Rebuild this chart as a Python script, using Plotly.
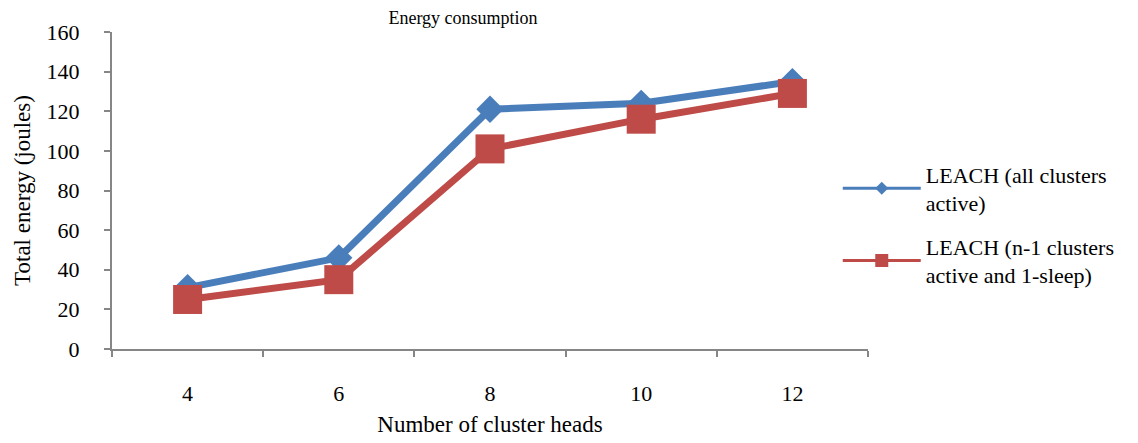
import plotly.graph_objects as go

categories = ["4", "6", "8", "10", "12"]
all_active = [31, 46, 121, 124, 135]
n1_active = [25, 35, 101, 116, 129]
series_names = ["LEACH (all clusters<br>active)", "LEACH (n-1 clusters<br>active and 1-sleep)"]
y_ticks = [0, 20, 40, 60, 80, 100, 120, 140, 160]

BLUE = "#4A7EBB"
RED = "#BE4B48"
FONT = "Liberation Serif"

fig = go.Figure()
# data traces
fig.add_trace(go.Scatter(
    x=categories, y=all_active, name=series_names[0], mode="lines+markers",
    showlegend=False, legendgroup="a",
    line=dict(color=BLUE, width=7),
    marker=dict(symbol="diamond", size=21, color=BLUE),
))
fig.add_trace(go.Scatter(
    x=categories, y=n1_active, name=series_names[1], mode="lines+markers",
    showlegend=False, legendgroup="b",
    line=dict(color=RED, width=7),
    marker=dict(symbol="square", size=29, color=RED),
))
# legend entries (thinner line and smaller markers, as in the reference legend)
fig.add_trace(go.Scatter(
    x=[None], y=[None], name=series_names[0], mode="lines+markers", legendgroup="a",
    line=dict(color=BLUE, width=3),
    marker=dict(symbol="diamond", size=10, color=BLUE),
))
fig.add_trace(go.Scatter(
    x=[None], y=[None], name=series_names[1], mode="lines+markers", legendgroup="b",
    line=dict(color=RED, width=3),
    marker=dict(symbol="square", size=13, color=RED),
))

fig.update_layout(
    width=1138, height=443,
    margin=dict(l=103, r=278, t=16, b=102),
    paper_bgcolor="white", plot_bgcolor="white",
    font=dict(family=FONT, size=22, color="#000000"),
    title=dict(text="Energy consumption", x=455/1138, xanchor="center",
               y=1 - 10/443, yanchor="middle", font=dict(size=18, family=FONT)),
    showlegend=True,
    legend=dict(x=0.96, xanchor="left", y=0.392, yanchor="middle",
                font=dict(size=22, family=FONT), itemwidth=78,
                traceorder="grouped", tracegroupgap=12, bgcolor="rgba(0,0,0,0)"),
    xaxis=dict(
        type="category", showgrid=False, showline=True, linecolor="#868686", linewidth=2,
        ticks="outside", ticklen=6, tickcolor="#868686", tickwidth=2,
        tickson="boundaries", ticklabelstandoff=24,
        title=dict(text="Number of cluster heads", standoff=10, font=dict(size=23)),
        range=[-0.5, 4.5], zeroline=False,
    ),
    yaxis=dict(
        range=[0, 160], tickvals=y_ticks, showgrid=False, showline=True,
        linecolor="#868686", linewidth=2, ticks="outside", ticklen=6,
        tickcolor="#868686", tickwidth=2, zeroline=False, ticklabelstandoff=20,
        title=dict(text="Total energy (joules)", standoff=10, font=dict(size=23)),
    ),
)

fig.write_html("out.html")
